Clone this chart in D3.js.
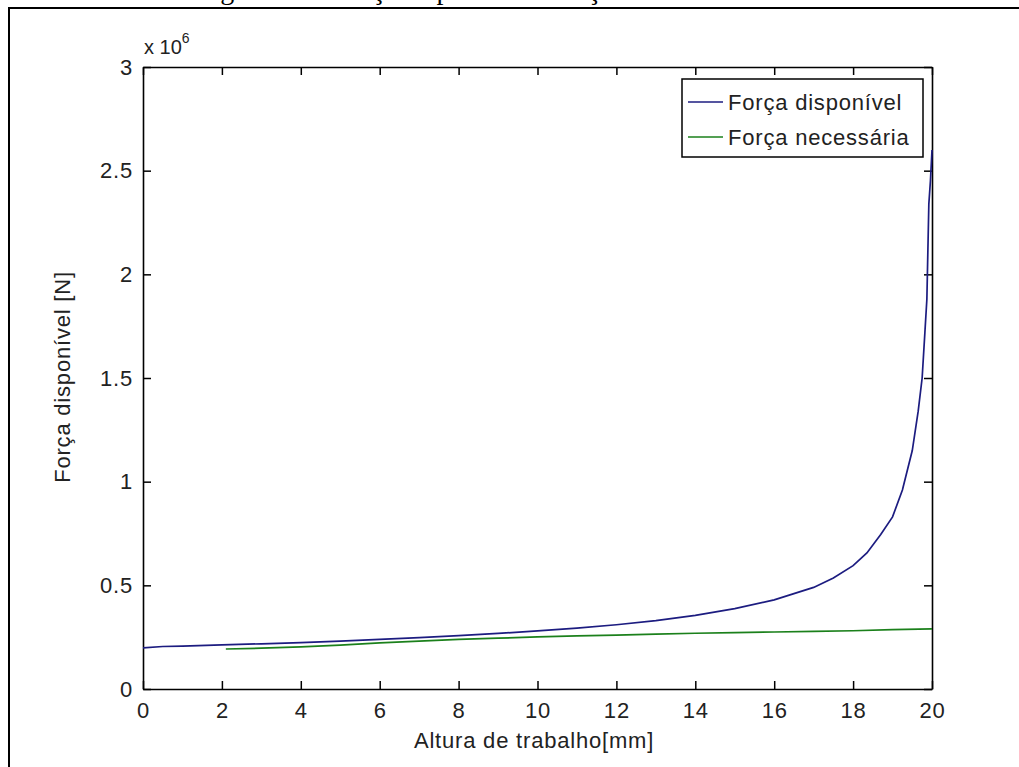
<!DOCTYPE html>
<html>
<head>
<meta charset="utf-8">
<script src="https://cdn.jsdelivr.net/npm/d3@7"></script>
<style>
  body { margin: 0; background: #fff; }
  svg { display: block; font-family: "Liberation Sans", Arial, sans-serif; }
</style>
</head>
<body>
<svg id="chart"></svg>
<script>
// Data (forces in N)
const alturaDisp = [0, 0.5, 1, 2, 3, 4, 5, 6, 7, 8, 9, 10, 11, 12, 13, 14, 15, 16, 16.5, 17, 17.5, 18, 18.35, 18.7, 19, 19.25, 19.5, 19.65, 19.75, 19.82, 19.87, 19.92, 19.96, 20];
const forcaDisp = [0.198e6, 0.205e6, 0.207e6, 0.213e6, 0.218e6, 0.224e6, 0.231e6, 0.239e6, 0.248e6, 0.257e6, 0.268e6, 0.280e6, 0.294e6, 0.310e6, 0.330e6, 0.355e6, 0.388e6, 0.430e6, 0.460e6, 0.490e6, 0.535e6, 0.595e6, 0.656e6, 0.745e6, 0.830e6, 0.960e6, 1.150e6, 1.340e6, 1.500e6, 1.720e6, 1.880e6, 2.340e6, 2.450e6, 2.600e6];

const alturaNec = [2.1, 3, 4, 5, 6, 7, 8, 9, 10, 11, 12, 13, 14, 15, 16, 17, 18, 19, 20];
const forcaNec = [0.193e6, 0.197e6, 0.203e6, 0.212e6, 0.222e6, 0.231e6, 0.239e6, 0.245e6, 0.251e6, 0.256e6, 0.260e6, 0.265e6, 0.269e6, 0.272e6, 0.275e6, 0.278e6, 0.281e6, 0.286e6, 0.290e6];

const xTicks = [0, 2, 4, 6, 8, 10, 12, 14, 16, 18, 20];
const yTicks = [0, 0.5e6, 1e6, 1.5e6, 2e6, 2.5e6, 3e6];

const seriesNames = ["Força disponível", "Força necessária"];
const colors = ["#1c1c80", "#1b801b"];

// Layout
const width = 1019, height = 767;
const marginLeft = 143, marginRight = 87, marginTop = 67, marginBottom = 78;
const spacing = "0.8px"; // the original font runs a bit wider than Arial

const svg = d3.select("#chart")
    .attr("width", width)
    .attr("height", height)
    .attr("viewBox", [0, 0, width, height]);

// page caption, mostly cut off at the top (as in the scan)
svg.append("text")
    .attr("x", 197)
    .attr("y", -1)
    .attr("font-family", "Liberation Serif, Times New Roman, serif")
    .attr("font-size", 28)
    .text("Figura 15 – Força disponível x Força necessária");

// outer frame of the figure
svg.append("rect")
    .attr("x", 9).attr("y", 8)
    .attr("width", 1200).attr("height", 1000)
    .attr("fill", "none")
    .attr("stroke", "#000")
    .attr("stroke-width", 2);

const x = d3.scaleLinear([0, 20], [marginLeft, width - marginRight]);
const y = d3.scaleLinear([0, 3e6], [height - marginBottom, marginTop]);

const fmtY = d => d / 1e6;

// bottom axis with labels
svg.append("g")
    .attr("transform", `translate(0,${height - marginBottom})`)
    .call(d3.axisBottom(x).tickValues(xTicks).tickSizeInner(-8).tickSizeOuter(0).tickPadding(13))
    .call(g => g.selectAll("text").attr("font-size", 22).attr("fill", "#222").attr("letter-spacing", spacing));

// top axis, ticks only
svg.append("g")
    .attr("transform", `translate(0,${marginTop})`)
    .call(d3.axisTop(x).tickValues(xTicks).tickSizeInner(-8).tickSizeOuter(0).tickFormat(""));

// left axis with labels
svg.append("g")
    .attr("transform", `translate(${marginLeft},0)`)
    .call(d3.axisLeft(y).tickValues(yTicks).tickSizeInner(-8).tickSizeOuter(0).tickPadding(10).tickFormat(fmtY))
    .call(g => g.selectAll("text").attr("font-size", 22).attr("fill", "#222").attr("letter-spacing", spacing));

// right axis, ticks only
svg.append("g")
    .attr("transform", `translate(${width - marginRight},0)`)
    .call(d3.axisRight(y).tickValues(yTicks).tickSizeInner(-8).tickSizeOuter(0).tickFormat(""));

svg.selectAll(".domain").attr("stroke-width", 1.6);
svg.selectAll(".tick line").attr("stroke-width", 1.5);

// exponent label
const expo = svg.append("text")
    .attr("x", 144)
    .attr("y", 54)
    .attr("font-size", 20)
    .attr("fill", "#222");
expo.append("tspan").text("x 10");
expo.append("tspan").attr("dy", -11).attr("font-size", 14).text("6");

// axis titles
svg.append("text")
    .attr("x", 534)
    .attr("y", 748)
    .attr("text-anchor", "middle")
    .attr("font-size", 22)
    .attr("fill", "#222")
    .attr("letter-spacing", spacing)
    .text("Altura de trabalho[mm]");

svg.append("text")
    .attr("transform", `translate(70,377) rotate(-90)`)
    .attr("text-anchor", "middle")
    .attr("font-size", 22)
    .attr("fill", "#222")
    .attr("letter-spacing", spacing)
    .text("Força disponível [N]");

// curves
const line = d3.line()
    .x(d => x(d[0]))
    .y(d => y(d[1]));

const series = [
    d3.zip(alturaDisp, forcaDisp),
    d3.zip(alturaNec, forcaNec)
];

svg.append("g")
    .selectAll("path")
    .data(series)
    .join("path")
    .attr("fill", "none")
    .attr("stroke", (d, i) => colors[i])
    .attr("stroke-width", 1.7)
    .attr("d", line);

// legend
const legend = svg.append("g");
legend.append("rect")
    .attr("x", 682).attr("y", 79)
    .attr("width", 241).attr("height", 78)
    .attr("fill", "#fff")
    .attr("stroke", "#000")
    .attr("stroke-width", 1.5);

const rows = legend.selectAll("g.row")
    .data(seriesNames)
    .join("g")
    .attr("class", "row")
    .attr("transform", (d, i) => `translate(0,${102 + i * 35})`);

rows.append("line")
    .attr("x1", 688).attr("x2", 723)
    .attr("stroke", (d, i) => colors[i])
    .attr("stroke-width", 1.7);

rows.append("text")
    .attr("x", 728)
    .attr("dy", "0.35em")
    .attr("font-size", 22)
    .attr("fill", "#222")
    .attr("letter-spacing", spacing)
    .text(d => d);
</script>
</body>
</html>
